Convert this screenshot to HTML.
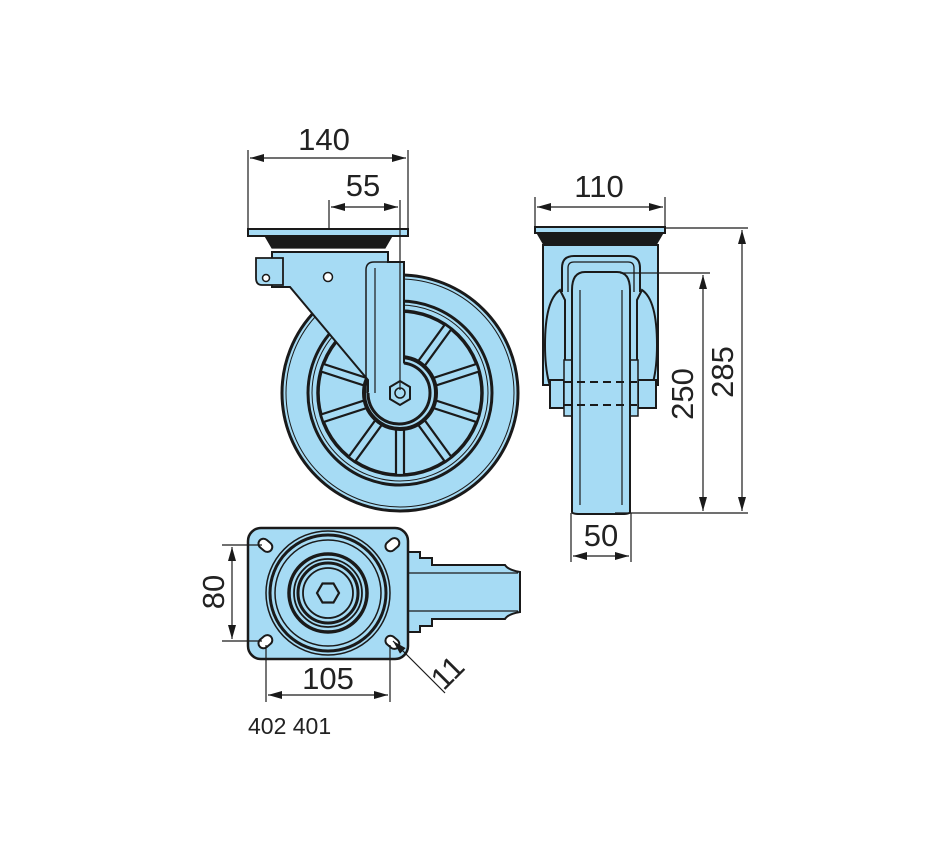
<!DOCTYPE html>
<html><head><meta charset="utf-8"><style>
html,body{margin:0;padding:0;background:#fff;}
svg{display:block;}
text{font-family:"Liberation Sans",sans-serif;fill:#222;}
</style></head><body>
<svg width="950" height="860" viewBox="0 0 950 860" xmlns="http://www.w3.org/2000/svg">
<defs>
<marker id="a" viewBox="0 0 14 8" refX="14" refY="4" markerWidth="14" markerHeight="8" markerUnits="userSpaceOnUse" orient="auto-start-reverse">
<path d="M0,0 L14,4 L0,8 Z" fill="#1a1a1a"/></marker>
</defs>
<g stroke="#1a1a1a" fill="none" stroke-width="1.2">
<!-- ===== SIDE VIEW ===== -->
<circle cx="400" cy="393" r="118" fill="#a6dbf4" stroke-width="3"/>
<circle cx="400" cy="393" r="114" stroke-width="1"/>
<circle cx="400" cy="393" r="92" stroke-width="3"/>
<circle cx="400" cy="393" r="88" stroke-width="1"/>
<circle cx="400" cy="393" r="82" stroke-width="3.5"/>
<g stroke-width="2.2" fill="#a6dbf4">
<g transform="rotate(0 400 393)"><rect x="396" y="311" width="8" height="50"/></g>
<g transform="rotate(36 400 393)"><rect x="396" y="311" width="8" height="50"/></g>
<g transform="rotate(72 400 393)"><rect x="396" y="311" width="8" height="50"/></g>
<g transform="rotate(108 400 393)"><rect x="396" y="311" width="8" height="50"/></g>
<g transform="rotate(144 400 393)"><rect x="396" y="311" width="8" height="50"/></g>
<g transform="rotate(180 400 393)"><rect x="396" y="311" width="8" height="50"/></g>
<g transform="rotate(216 400 393)"><rect x="396" y="311" width="8" height="50"/></g>
<g transform="rotate(252 400 393)"><rect x="396" y="311" width="8" height="50"/></g>
<g transform="rotate(288 400 393)"><rect x="396" y="311" width="8" height="50"/></g>
<g transform="rotate(324 400 393)"><rect x="396" y="311" width="8" height="50"/></g>
</g>
<circle cx="400" cy="393" r="36" fill="#a6dbf4" stroke-width="4"/>
<path d="M272,252 L388,252 L388,262 L404,262 L404,393 L368,393 L368,380 L290,287 L272,287 Z" fill="#a6dbf4" stroke-width="2"/>
<path d="M368,393 A30,30 0 0 0 430,393 A30,30 0 0 0 404,363" fill="#a6dbf4" stroke-width="3"/>
<path d="M366,393 L366,270 Q366,262 374,262 L388,262" stroke-width="1.5"/>
<path d="M375,393 L375,268" stroke-width="1.2"/>
<path d="M256,258 L283,258 L283,285 L262,285 Q256,285 256,278 Z" fill="#a6dbf4" stroke-width="1.8"/>
<circle cx="266" cy="278" r="3.5" fill="#fff" stroke-width="1.5"/>
<circle cx="328" cy="277" r="4.5" fill="#fff" stroke-width="1.5"/>
<polygon points="400,381 410,387 410,399 400,405 390,399 390,387" fill="#a6dbf4" stroke-width="2"/>
<circle cx="400" cy="393" r="5" stroke-width="1.5"/>
<path d="M265,236 L392,236 L385,248 L272,248 Z" fill="#1a1a1a"/>
<rect x="248" y="229" width="160" height="7" fill="#a6dbf4" stroke-width="2"/>
<line x1="248" y1="150" x2="248" y2="229"/>
<line x1="408" y1="150" x2="408" y2="229"/>
<line x1="250" y1="158" x2="406" y2="158" marker-start="url(#a)" marker-end="url(#a)"/>
<line x1="329" y1="200" x2="329" y2="229"/>
<line x1="400" y1="200" x2="400" y2="390"/>
<line x1="331" y1="207" x2="398" y2="207" marker-start="url(#a)" marker-end="url(#a)"/>

<!-- ===== FRONT VIEW ===== -->
<path d="M537,233 L663,233 L656,245 L544,245 Z" fill="#1a1a1a"/>
<rect x="535" y="227" width="130" height="6" fill="#a6dbf4" stroke-width="2"/>
<rect x="543" y="245" width="115" height="140" fill="#a6dbf4" stroke-width="2"/>
<path d="M562,292 L562,268 Q562,256 574,256 L628,256 Q640,256 640,268 L640,292" fill="#a6dbf4" stroke-width="2"/>
<path d="M568,292 L568,268 Q568,262 574,262 L628,262 Q634,262 634,268 L634,292" stroke-width="1.3"/>
<path d="M560,290 Q545,300 545,345 Q545,380 555,398 L565,398 L565,300 Z" fill="#a6dbf4" stroke-width="2"/>
<path d="M642,290 Q657,300 657,345 Q657,380 647,398 L637,398 L637,300 Z" fill="#a6dbf4" stroke-width="2"/>
<rect x="550" y="380" width="14" height="28" fill="#a6dbf4" stroke-width="2"/>
<rect x="638" y="380" width="18" height="28" fill="#a6dbf4" stroke-width="2"/>
<rect x="564" y="360" width="74" height="56" fill="#a6dbf4" stroke-width="1.5"/>
<path d="M572,512 L572,290 Q572,272 585,272 L617,272 Q630,272 630,290 L630,512 Q630,514 622,514 L580,514 Q572,514 572,512 Z" fill="#a6dbf4" stroke-width="2"/>
<line x1="580" y1="290" x2="580" y2="505"/>
<line x1="622" y1="290" x2="622" y2="505"/>
<line x1="564" y1="382" x2="638" y2="382" stroke-width="2" stroke-dasharray="8,5"/>
<line x1="564" y1="405" x2="638" y2="405" stroke-width="2" stroke-dasharray="8,5"/>
<line x1="535" y1="197" x2="535" y2="227"/>
<line x1="665" y1="197" x2="665" y2="227"/>
<line x1="537" y1="207" x2="663" y2="207" marker-start="url(#a)" marker-end="url(#a)"/>
<line x1="665" y1="228" x2="748" y2="228"/>
<line x1="620" y1="273" x2="710" y2="273"/>
<line x1="615" y1="513" x2="748" y2="513"/>
<line x1="703" y1="275" x2="703" y2="511" marker-start="url(#a)" marker-end="url(#a)"/>
<line x1="742" y1="230" x2="742" y2="511" marker-start="url(#a)" marker-end="url(#a)"/>
<line x1="571" y1="513" x2="571" y2="562"/>
<line x1="631" y1="513" x2="631" y2="562"/>
<line x1="573" y1="556" x2="629" y2="556" marker-start="url(#a)" marker-end="url(#a)"/>

<!-- ===== TOP VIEW ===== -->
<path d="M405,552 L420,552 L420,558 L432,558 L432,565 L505,565 Q508,570 520,572 L520,612 Q508,614 505,619 L432,619 L432,626 L420,626 L420,632 L405,632 Z" fill="#a6dbf4" stroke-width="2"/>
<line x1="408" y1="573" x2="518" y2="573"/>
<line x1="408" y1="611" x2="518" y2="611"/>
<rect x="248" y="528" width="160" height="131" rx="13" fill="#a6dbf4" stroke-width="2.5"/>
<circle cx="328" cy="593" r="62" stroke-width="1.5"/>
<circle cx="328" cy="593" r="58" stroke-width="3"/>
<circle cx="328" cy="593" r="53" stroke-width="1.5"/>
<circle cx="328" cy="593" r="39" stroke-width="3.5"/>
<circle cx="328" cy="593" r="34" stroke-width="1.8"/>
<circle cx="328" cy="593" r="30" stroke-width="3"/>
<circle cx="328" cy="593" r="25" stroke-width="1.8"/>
<polygon points="317,593 322.5,583.5 333.5,583.5 339,593 333.5,602.5 322.5,602.5" stroke-width="2.2"/>
<g fill="#fff" stroke-width="2">
<rect x="258" y="540" width="15" height="10" rx="5" transform="rotate(40 265 545)"/>
<rect x="385" y="540" width="15" height="10" rx="5" transform="rotate(-40 392 545)"/>
<rect x="258" y="637" width="15" height="10" rx="5" transform="rotate(-40 265 642)"/>
<rect x="385" y="637" width="15" height="10" rx="5" transform="rotate(40 392 642)"/>
</g>
<line x1="222" y1="545" x2="262" y2="545"/>
<line x1="222" y1="641" x2="262" y2="641"/>
<line x1="232" y1="547" x2="232" y2="639" marker-start="url(#a)" marker-end="url(#a)"/>
<line x1="266" y1="645" x2="266" y2="702"/>
<line x1="390" y1="645" x2="390" y2="702"/>
<line x1="268" y1="695" x2="388" y2="695" marker-start="url(#a)" marker-end="url(#a)"/>
<line x1="445" y1="693" x2="393" y2="641" marker-end="url(#a)"/>
</g>
<g font-size="31">
<text x="324" y="150" text-anchor="middle">140</text>
<text x="363" y="196" text-anchor="middle">55</text>
<text x="599" y="197" text-anchor="middle">110</text>
<text x="601" y="546" text-anchor="middle">50</text>
<text x="328" y="689" text-anchor="middle">105</text>
<text transform="translate(693,394) rotate(-90)" text-anchor="middle">250</text>
<text transform="translate(733,372) rotate(-90)" text-anchor="middle">285</text>
<text transform="translate(224,592) rotate(-90)" text-anchor="middle">80</text>
<text transform="translate(455,680) rotate(-45)" text-anchor="middle">11</text>
</g>
<text x="248" y="734" font-size="23">402 401</text>
</svg>
</body></html>
